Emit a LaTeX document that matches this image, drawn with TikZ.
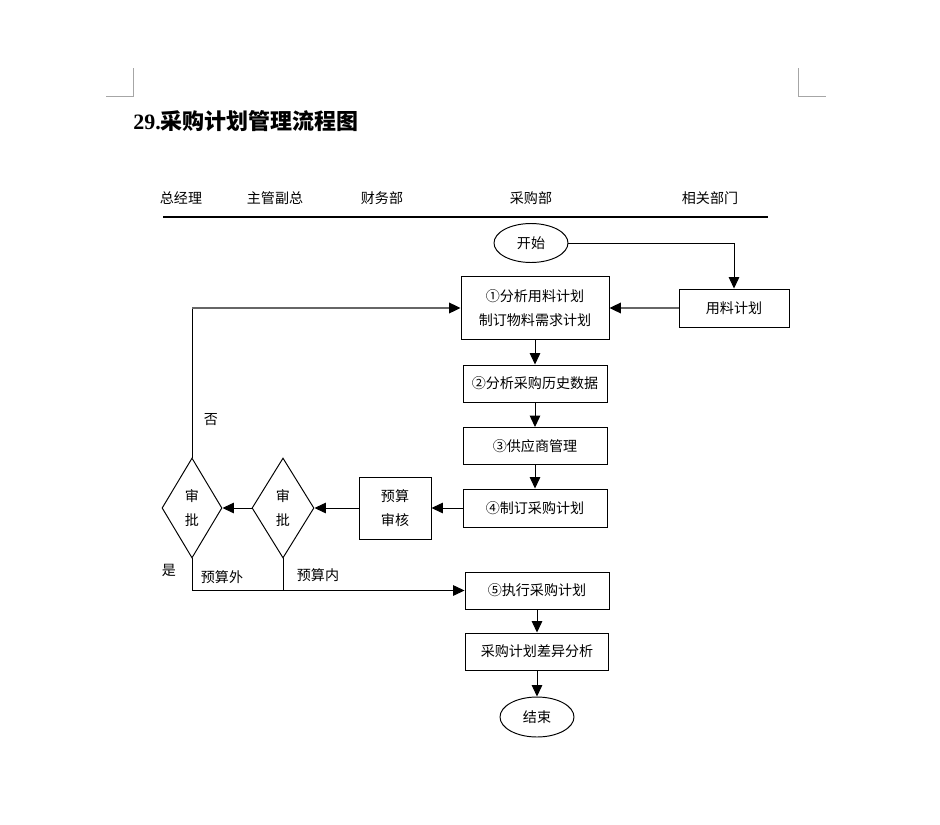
\documentclass[tikz,border=0pt]{standalone}
\usepackage{fontspec}
\setmainfont{Liberation Serif}
\newfontfamily\cjk{Noto Sans CJK SC}
\usetikzlibrary{shapes.geometric,arrows.meta,positioning}

\begin{document}
\begin{tikzpicture}[
    x=0.02cm, y=-0.02cm,
    txt/.style={font=\cjk\fontsize{8pt}{14pt}\selectfont, align=center},
    proc/.style={txt, draw, line width=0.55pt, inner sep=0pt,
                 minimum width=2.88cm, minimum height=0.74cm},
    term/.style={txt, draw, ellipse, line width=0.55pt, inner sep=0pt,
                 minimum width=1.48cm, minimum height=0.78cm},
    judge/.style={txt, draw, diamond, aspect=0.6, line width=0.55pt, inner sep=0pt,
                  minimum width=1.2cm, minimum height=2cm},
    flow/.style={-{Triangle[length=6.5pt,width=6pt,color=black]}, line width=0.55pt},
    flowgray/.style={flow, draw=black!60, line width=1pt},
    lane/.style={font=\cjk\fontsize{8pt}{10pt}\selectfont},
    cornermark/.style={draw=black!35, line width=0.5pt},
  ]
  \useasboundingbox (0,0) rectangle (940,825);

  % ---- page corners and title
  \draw[cornermark] (133,68) -- (133,96) -- (106,96);
  \draw[cornermark] (798,68) -- (798,96) -- (826,96);
  \node[anchor=west, inner sep=0pt, font=\bfseries\fontsize{12.5pt}{15pt}\selectfont]
    (title) at (133,121) {29.{\cjk\bfseries 采购计划管理流程图}};

  % ---- lane headers
  \node[lane] (hGM)  at (181,198) {总经理};
  \node[lane] (hVP)  at (275,198) {主管副总};
  \node[lane] (hFin) at (382,198) {财务部};
  \node[lane] (hPur) at (531,198) {采购部};
  \node[lane] (hRel) at (710,198) {相关部门};
  \draw[line width=0.7pt] (163,217) -- (768,217);

  % ---- purchasing column
  \node[term] (start) at (531,243) {开始};
  \node[proc, minimum width=2.2cm, minimum height=0.76cm] (plan) at (734,308) {用料计划};
  \node[proc, minimum width=2.96cm, minimum height=1.26cm] (s1) at (535,308)
    {①分析用料计划\\制订物料需求计划};
  \node[proc] (s2) at (535,383.5) {②分析采购历史数据};
  \node[proc] (s3) at (535,446) {③供应商管理};
  \node[proc, minimum height=0.76cm] (s4) at (535,508) {④制订采购计划};
  \node[proc] (s5) at (537,590.5) {⑤执行采购计划};
  \node[proc, minimum width=2.86cm] (s6) at (537,651.5) {采购计划差异分析};
  \node[term, minimum height=0.8cm] (stop) at (537,717) {结束};

  % ---- approvals
  \node[proc, minimum width=1.44cm, minimum height=1.24cm] (budget) at (395,508) {预算\\审核};
  \node[judge, minimum width=1.24cm] (ok2) at (283,508) {审\\批};
  \node[judge] (ok1) at (192,508) {审\\批};

  \node[txt] (no)    at (211,420) {否};
  \node[txt] (yes)   at (169,570) {是};
  \node[txt] (outBd) at (222,577) {预算外};
  \node[txt] (inBd)  at (318,575) {预算内};

  % ---- connectors
  \coordinate (back) at (ok1.north |- s1.west);
  \draw[flow] (start.east) -| (plan.north);
  \draw[flowgray] (plan.west) -- (s1.east);
  \draw[flow] (s1.south) -- (s2.north);
  \draw[flow] (s2.south) -- (s3.north);
  \draw[flow] (s3.south) -- (s4.north);
  \draw[flow] (s4.west) -- (budget.east);
  \draw[flow] (budget.west) -- (ok2.east);
  \draw[flow] (ok2.west) -- (ok1.east);
  \draw[line width=0.55pt] (ok1.north) -- (back);
  \draw[flowgray] (back) -- (s1.west);
  \draw[flow] (ok1.south) |- (s5.west);
  \draw[line width=0.55pt] (ok2.south) -- (ok2.south |- s5.west);
  \draw[flow] (s5.south) -- (s6.north);
  \draw[flow] (s6.south) -- (stop.north);
\end{tikzpicture}
\end{document}
